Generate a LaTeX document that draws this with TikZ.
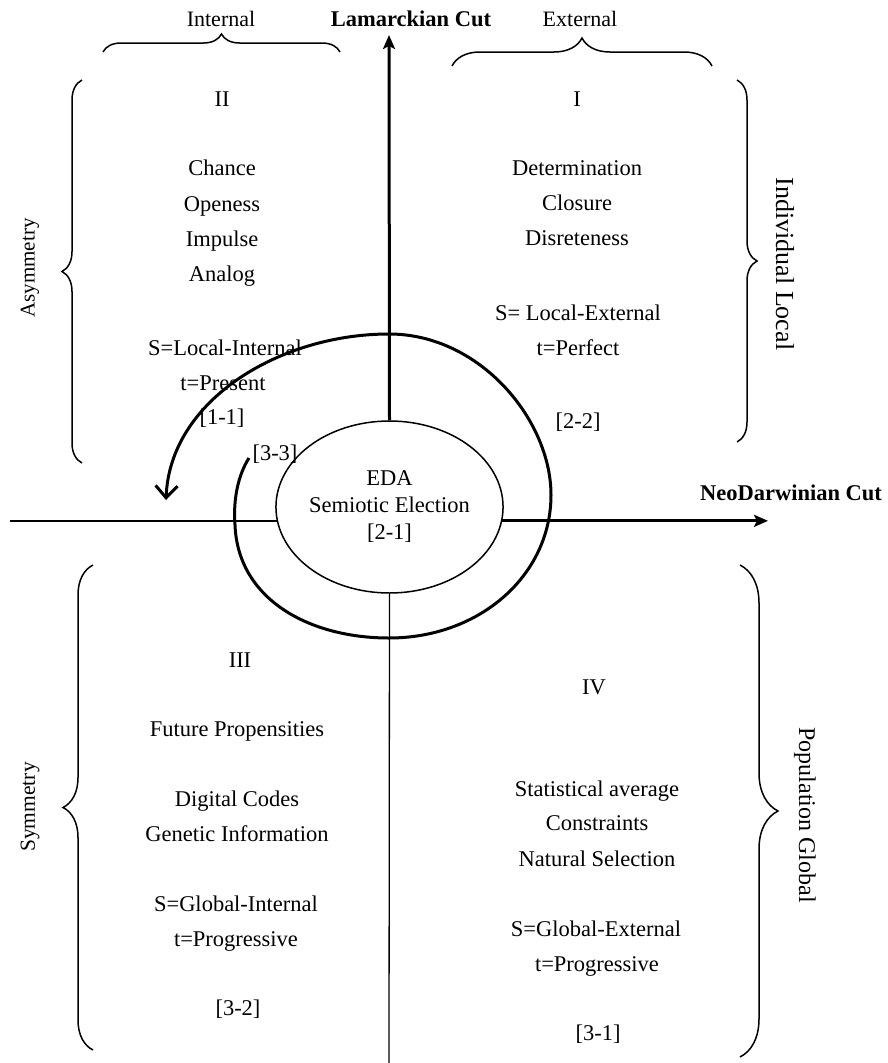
\documentclass[tikz,border=0pt]{standalone}
\usepackage{fontspec}
\setmainfont{Liberation Serif}
\usetikzlibrary{arrows.meta,shapes.geometric,decorations.pathreplacing}
\begin{document}
\begin{tikzpicture}[x=1pt,y=-1pt,
  txt/.style={font=\fontsize{22.5}{27}\selectfont, inner sep=0pt, anchor=base},
  toplbl/.style={font=\fontsize{22}{26}\selectfont, inner sep=0pt, anchor=base},
  cutlbl/.style={font=\fontsize{22.5}{27}\selectfont\bfseries, inner sep=0pt, anchor=base},
  side/.style={inner sep=0pt},
  thickline/.style={line width=3pt},
  thinline/.style={line width=1.3pt},
  bracestyle/.style={decorate, decoration={brace, amplitude=#1}, line width=1.5pt},
  axisarrow/.style={-{Stealth[length=14pt,width=12pt,inset=3pt]}},
  spiralarrow/.style={line width=3pt, -{Straight Barb[length=12pt,width=22pt]}}
]
\useasboundingbox (0,0) rectangle (888,1063);

% central ellipse
\node[draw, ellipse, minimum width=205pt, minimum height=172pt, inner sep=0pt,
      line width=1.5pt, align=center, font=\fontsize{22.5}{27}\selectfont]
      (eda) at (389.5,507) {EDA\\Semiotic Election\\{[2-1]}};

% axes
\coordinate (vtop) at (389,35);
\coordinate (vbot) at (389,1063);
\coordinate (hleft) at (10,521);
\coordinate (hright) at (768,521);
\draw[thickline, axisarrow] (eda.north) -- (vtop);
\draw[thinline] (eda.south) -- (vbot);
\draw[thickline, axisarrow] (eda.-7.9) -- (eda.-7.9 -| hright);
\draw[thinline] (eda.187.9) -- (eda.187.9 -| hleft);

% axis labels
\node[cutlbl] (lam) at (411,26) {Lamarckian Cut};
\node[cutlbl] (neo) at (791,500) {NeoDarwinian Cut};
\node[toplbl] (int) at (221,26) {Internal};
\node[toplbl] (ext) at (580,26) {External};

% braces
\draw[bracestyle=18] (103,52) -- (340,52);
\draw[bracestyle=28] (452,66) -- (712,66);
\draw[bracestyle=20] (82,463) -- (82,80);
\draw[bracestyle=20] (737,80) -- (737,442);
\draw[bracestyle=30] (93,1050) -- (93,565);
\draw[bracestyle=38] (740,565) -- (740,1057);

% side labels
\node[side, rotate=90, font=\fontsize{21}{25}\selectfont] (asym) at (30,268) {Asymmetry};
\node[side, rotate=-90, font=\fontsize{26}{30}\selectfont] (indiv) at (785,264) {Individual Local};
\node[side, rotate=90, font=\fontsize{21.5}{25}\selectfont] (sym) at (30,807) {Symmetry};
\node[side, rotate=-90, font=\fontsize{24}{28}\selectfont] (popg) at (805,815) {Population Global};

% Quadrant I
\node[txt] (q1n) at (577,106) {I};
\node[txt] (q1a) at (577,175) {Determination};
\node[txt] (q1b) at (577,210) {Closure};
\node[txt] (q1c) at (577,245) {Disreteness};
\node[txt] (q1s) at (578,320) {S= Local-External};
\node[txt] (q1t) at (578,355) {t=Perfect};
\node[txt] (q1k) at (578,428) {[2-2]};

% Quadrant II
\node[txt] (q2n) at (222,106) {II};
\node[txt] (q2a) at (222,175) {Chance};
\node[txt] (q2b) at (222,211) {Openess};
\node[txt] (q2c) at (222,246) {Impulse};
\node[txt] (q2d) at (222,281) {Analog};
\node[txt] (q2s) at (225,355) {S=Local-Internal};
\node[txt] (q2t) at (223,390) {t=Present};
\node[txt] (q2k) at (222,424) {[1-1]};

% Quadrant III
\node[txt] (q3n) at (240,667) {III};
\node[txt] (q3a) at (237,736) {Future Propensities};
\node[txt] (q3b) at (237,806) {Digital Codes};
\node[txt] (q3c) at (237,841) {Genetic Information};
\node[txt] (q3s) at (236,911) {S=Global-Internal};
\node[txt] (q3t) at (236,946) {t=Progressive};
\node[txt] (q3k) at (238,1015) {[3-2]};

% Quadrant IV
\node[txt] (q4n) at (594,694) {IV};
\node[txt] (q4a) at (597,796) {Statistical average};
\node[txt] (q4b) at (597,830) {Constraints};
\node[txt] (q4c) at (597,866) {Natural Selection};
\node[txt] (q4s) at (596,936) {S=Global-External};
\node[txt] (q4t) at (597,971) {t=Progressive};
\node[txt] (q4k) at (598,1040) {[3-1]};

% spiral
\node[txt] (l33) at (275,460) {[3-3]};
\draw[spiralarrow] (249,458) .. controls (238,475) and (233,500) .. (235,525)
  .. controls (238,600) and (310,638) .. (389,638)
  .. controls (480,638) and (551,575) .. (551,495)
  .. controls (551,420) and (480,334) .. (389,334)
  .. controls (280,334) and (170,400) .. (166,500);
\end{tikzpicture}
\end{document}
